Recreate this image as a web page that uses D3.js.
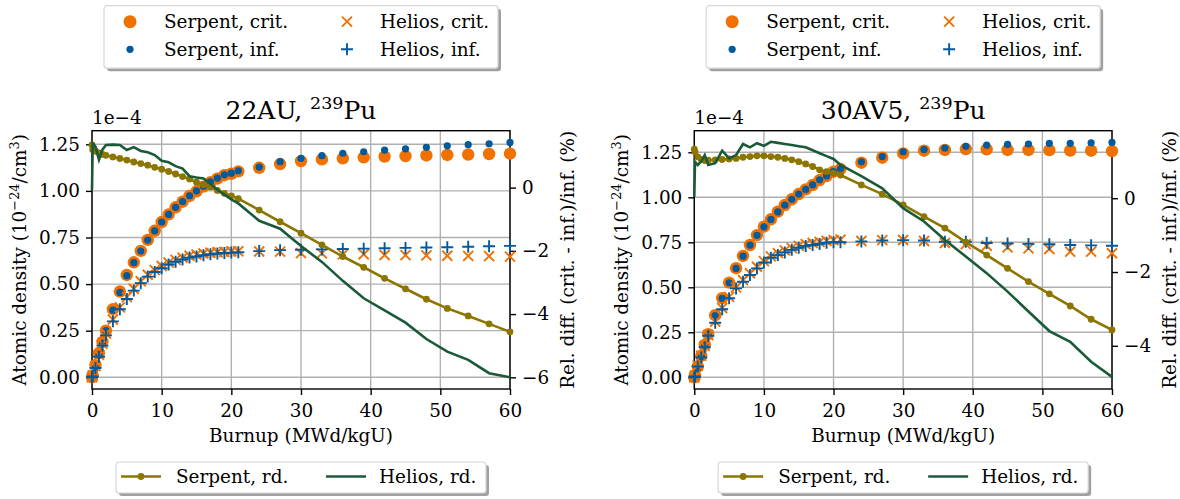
<!DOCTYPE html>
<html>
<head>
<meta charset="utf-8">
<script src="https://cdn.jsdelivr.net/npm/d3@7"></script>
<style>
  body { margin: 0; background: #fff; }
  svg { display: block; font-family: "DejaVu Serif", serif; }
</style>
</head>
<body>
<svg id="chart" width="1180" height="499"></svg>
<script>
// burnup steps (MWd/kgU)
const burnup = [0, 0.1, 0.5, 1, 1.5, 2, 3, 4, 5, 6, 7, 8, 9, 10, 11, 12, 13, 14, 15, 16, 17, 18, 19, 20, 21,
    24, 27, 30, 33, 36, 39, 42, 45, 48, 51, 54, 57, 60];

// 22AU, Pu-239 atomic density (1e-4 / barn-cm)
const serpCrit22 = [0, 0.01, 0.065, 0.13, 0.19, 0.25, 0.365, 0.46, 0.549, 0.617, 0.678, 0.737, 0.786, 0.833, 0.874,
    0.912, 0.942, 0.973, 0.998, 1.023, 1.046, 1.066, 1.084, 1.092, 1.105,
    1.124, 1.144, 1.160, 1.169, 1.175, 1.180, 1.184, 1.187, 1.190, 1.193, 1.195, 1.198, 1.200];
const serpInf22 = [0, 0.005, 0.05, 0.12, 0.18, 0.25, 0.36, 0.455, 0.545, 0.615, 0.677, 0.736, 0.786, 0.833, 0.874,
    0.912, 0.943, 0.974, 1.0, 1.025, 1.048, 1.068, 1.086, 1.095, 1.108,
    1.128, 1.157, 1.175, 1.189, 1.202, 1.210, 1.219, 1.226, 1.234, 1.242, 1.248, 1.253, 1.260];
const helCrit22 = [0, 0.01, 0.06, 0.12, 0.18, 0.235, 0.31, 0.375, 0.43, 0.475, 0.515, 0.55, 0.575, 0.597, 0.615,
    0.63, 0.642, 0.652, 0.658, 0.664, 0.668, 0.671, 0.673, 0.675, 0.676,
    0.675, 0.674, 0.666, 0.665, 0.659, 0.66, 0.656, 0.655, 0.654, 0.652, 0.651, 0.650, 0.647];
const helInf22 = [0, 0.005, 0.05, 0.11, 0.17, 0.225, 0.30, 0.365, 0.42, 0.465, 0.505, 0.54, 0.565, 0.585, 0.605,
    0.62, 0.632, 0.642, 0.648, 0.655, 0.66, 0.664, 0.667, 0.669, 0.671,
    0.677, 0.682, 0.684, 0.686, 0.688, 0.69, 0.692, 0.694, 0.696, 0.698, 0.70, 0.703, 0.705];
// 22AU, relative difference (%)
const serpRd22 = [1.35, 1.2, 1.15, 1.1, 1.05, 1.02, 0.97, 0.92, 0.87, 0.81, 0.76, 0.71, 0.64, 0.58, 0.51,
    0.43, 0.35, 0.27, 0.17, 0.09, 0.02, -0.09, -0.18, -0.26, -0.35,
    -0.71, -1.08, -1.44, -1.81, -2.18, -2.52, -2.87, -3.2, -3.53, -3.82, -4.06, -4.31, -4.56];
const helRd22 = [-0.07, 1.4, 1.3, 0.88, 1.2, 1.35, 1.36, 1.35, 1.19, 1.28, 1.16, 1.12, 1.03, 0.85, 0.8,
    0.68, 0.6, 0.36, 0.32, 0.29, 0.12, -0.07, -0.22, -0.37, -0.5,
    -1.05, -1.3, -1.85, -2.35, -2.95, -3.5, -3.88, -4.27, -4.79, -5.19, -5.45, -5.87, -6.0];

// 30AV5, Pu-239 atomic density
const serpCrit30 = [0, 0.01, 0.06, 0.12, 0.18, 0.24, 0.345, 0.44, 0.526, 0.606, 0.674, 0.735, 0.79, 0.837, 0.878,
    0.92, 0.957, 0.989, 1.018, 1.044, 1.068, 1.096, 1.118, 1.142, 1.157,
    1.192, 1.22, 1.244, 1.259, 1.263, 1.268, 1.266, 1.263, 1.263, 1.262, 1.26, 1.259, 1.257];
const serpInf30 = [0, 0.005, 0.05, 0.115, 0.175, 0.237, 0.343, 0.438, 0.525, 0.605, 0.673, 0.734, 0.789, 0.836, 0.877,
    0.919, 0.956, 0.989, 1.018, 1.044, 1.069, 1.097, 1.119, 1.143, 1.158,
    1.197, 1.226, 1.253, 1.265, 1.274, 1.283, 1.29, 1.294, 1.296, 1.30, 1.30, 1.303, 1.305];
const helCrit30 = [0, 0.01, 0.065, 0.12, 0.175, 0.235, 0.31, 0.385, 0.447, 0.5, 0.54, 0.578, 0.614, 0.645, 0.672,
    0.69, 0.705, 0.718, 0.73, 0.74, 0.746, 0.752, 0.758, 0.762, 0.765,
    0.757, 0.762, 0.763, 0.757, 0.746, 0.74, 0.731, 0.722, 0.716, 0.713, 0.698, 0.698, 0.689];
const helInf30 = [0, 0.005, 0.06, 0.11, 0.167, 0.23, 0.303, 0.378, 0.439, 0.494, 0.531, 0.568, 0.605, 0.638, 0.664,
    0.679, 0.694, 0.708, 0.72, 0.73, 0.735, 0.741, 0.748, 0.75, 0.75,
    0.755, 0.76, 0.762, 0.76, 0.753, 0.753, 0.746, 0.743, 0.741, 0.739, 0.735, 0.733, 0.731];
// 30AV5, relative difference (%)
const serpRd30 = [1.33, 1.26, 1.12, 1.05, 1.02, 1.03, 1.04, 1.05, 1.065, 1.08, 1.11, 1.13, 1.15, 1.15, 1.13,
    1.11, 1.08, 1.04, 0.99, 0.93, 0.86, 0.77, 0.72, 0.68, 0.63,
    0.36, 0.11, -0.18, -0.5, -0.81, -1.19, -1.54, -1.9, -2.26, -2.59, -2.92, -3.28, -3.57];
const helRd30 = [0.04, 0.99, 0.9, 1.0, 1.17, 0.9, 0.95, 1.29, 1.08, 1.17, 1.47, 1.38, 1.49, 1.42, 1.53,
    1.5, 1.47, 1.44, 1.41, 1.38, 1.3, 1.22, 1.14, 1.065, 0.9,
    0.6, 0.27, -0.27, -0.63, -1.13, -1.58, -2.03, -2.53, -3.07, -3.6, -3.89, -4.43, -4.84];

const xTicks = [0, 10, 20, 30, 40, 50, 60];
const yTicks = [0, 0.25, 0.5, 0.75, 1.0, 1.25];

const orange = "#f07000", blue = "#005a9e", olive = "#8c7600", green = "#1b5a38";
const fontSize = 18.4;

const svg = d3.select("#chart");
svg.append("rect").attr("width", 1180).attr("height", 499).attr("fill", "#fff");

const panels = [
    {name: "22AU", left: 92, right: 510, yDom: [-0.063, 1.323], rDom: [-6.37, 1.80], rTicks: [-6, -4, -2, 0],
        serpCrit: serpCrit22, serpInf: serpInf22, helCrit: helCrit22, helInf: helInf22, serpRd: serpRd22, helRd: helRd22},
    {name: "30AV5", left: 694.3, right: 1112, yDom: [-0.065, 1.37], rDom: [-5.17, 1.83], rTicks: [-4, -2, 0],
        serpCrit: serpCrit30, serpInf: serpInf30, helCrit: helCrit30, helInf: helInf30, serpRd: serpRd30, helRd: helRd30}
];

const plotTop = 130.7, plotBottom = 389;
const minus = v => String(v).replace("-", "\u2212");

panels.forEach(p => {
    const g = svg.append("g");
    const x = d3.scaleLinear().domain([0, 60]).range([p.left, p.right]);
    const y = d3.scaleLinear().domain(p.yDom).range([plotBottom, plotTop]);
    const yr = d3.scaleLinear().domain(p.rDom).range([plotBottom, plotTop]);
    const cx = (p.left + p.right) / 2;

    // grid
    g.append("g").selectAll("line").data(xTicks).join("line")
        .attr("x1", d => x(d)).attr("x2", d => x(d)).attr("y1", plotTop).attr("y2", plotBottom)
        .attr("stroke", "#b0b0b0").attr("stroke-width", 1.4);
    g.append("g").selectAll("line").data(yTicks).join("line")
        .attr("y1", d => y(d)).attr("y2", d => y(d)).attr("x1", p.left).attr("x2", p.right)
        .attr("stroke", "#b0b0b0").attr("stroke-width", 1.4);

    // axes
    const ax = g.append("g").attr("transform", `translate(0,${plotBottom})`)
        .call(d3.axisBottom(x).tickValues(xTicks).tickSize(6).tickPadding(6).tickSizeOuter(0));
    const ay = g.append("g").attr("transform", `translate(${p.left},0)`)
        .call(d3.axisLeft(y).tickValues(yTicks).tickFormat(d3.format(".2f")).tickSize(6).tickPadding(6).tickSizeOuter(0));
    const ar = g.append("g").attr("transform", `translate(${p.right},0)`)
        .call(d3.axisRight(yr).tickValues(p.rTicks).tickFormat(minus).tickSize(6).tickPadding(6).tickSizeOuter(0));
    [ax, ay, ar].forEach(a => {
        a.select(".domain").remove();
        a.selectAll("line").attr("stroke", "#000").attr("stroke-width", 1.4);
        a.selectAll("text").attr("font-family", "DejaVu Serif").attr("font-size", fontSize).attr("fill", "#000");
    });
    ax.selectAll("text").attr("dy", "0.88em");

    // spines
    g.append("rect").attr("x", p.left).attr("y", plotTop).attr("width", p.right - p.left).attr("height", plotBottom - plotTop)
        .attr("fill", "none").attr("stroke", "#000").attr("stroke-width", 1.4);

    const pts = arr => arr.map((v, i) => [burnup[i], v]);

    // markers
    g.append("g").selectAll("circle").data(pts(p.serpCrit)).join("circle")
        .attr("cx", d => x(d[0])).attr("cy", d => y(d[1])).attr("r", 6.2).attr("fill", orange);
    g.append("g").selectAll("circle").data(pts(p.serpInf)).join("circle")
        .attr("cx", d => x(d[0])).attr("cy", d => y(d[1])).attr("r", 3.6).attr("fill", blue);
    g.append("g").selectAll("path").data(pts(p.helCrit)).join("path")
        .attr("d", d => `M${x(d[0]) - 5},${y(d[1]) - 5}L${x(d[0]) + 5},${y(d[1]) + 5}M${x(d[0]) - 5},${y(d[1]) + 5}L${x(d[0]) + 5},${y(d[1]) - 5}`)
        .attr("stroke", orange).attr("stroke-width", 1.9).attr("fill", "none");
    g.append("g").selectAll("path").data(pts(p.helInf)).join("path")
        .attr("d", d => `M${x(d[0]) - 6},${y(d[1])}L${x(d[0]) + 6},${y(d[1])}M${x(d[0])},${y(d[1]) - 6}L${x(d[0])},${y(d[1]) + 6}`)
        .attr("stroke", blue).attr("stroke-width", 1.9).attr("fill", "none");

    // relative differences on the twin axis
    const line = d3.line().x(d => x(d[0])).y(d => yr(d[1]));
    g.append("path").datum(pts(p.serpRd)).attr("d", line)
        .attr("fill", "none").attr("stroke", olive).attr("stroke-width", 2.6);
    g.append("g").selectAll("circle").data(pts(p.serpRd)).join("circle")
        .attr("cx", d => x(d[0])).attr("cy", d => yr(d[1])).attr("r", 3.4).attr("fill", olive);
    g.append("path").datum(pts(p.helRd)).attr("d", line)
        .attr("fill", "none").attr("stroke", green).attr("stroke-width", 2.6);

    // texts
    const title = g.append("text").attr("x", cx).attr("y", 119).attr("text-anchor", "middle")
        .attr("font-size", 25);
    title.append("tspan").text(p.name + ", ");
    title.append("tspan").attr("dy", -10).attr("font-size", 17.5).text("239");
    title.append("tspan").attr("dy", 10).text("Pu");

    g.append("text").attr("x", p.left).attr("y", 124).attr("font-size", fontSize).text("1e\u22124");

    g.append("text").attr("x", cx).attr("y", 442).attr("text-anchor", "middle")
        .attr("font-size", fontSize).text("Burnup (MWd/kgU)");

    const yl = g.append("text").attr("transform", `translate(${p.left - 66},${(plotTop + plotBottom) / 2}) rotate(-90)`)
        .attr("text-anchor", "middle").attr("font-size", fontSize);
    yl.append("tspan").text("Atomic density (10");
    yl.append("tspan").attr("dy", -7).attr("font-size", 12.9).text("\u221224");
    yl.append("tspan").attr("dy", 7).text("/cm");
    yl.append("tspan").attr("dy", -7).attr("font-size", 12.9).text("3");
    yl.append("tspan").attr("dy", 7).text(")");

    g.append("text").attr("transform", `translate(${p.right + 64},${(plotTop + plotBottom) / 2}) rotate(-90)`)
        .attr("text-anchor", "middle").attr("font-size", fontSize).text("Rel. diff. (crit. - inf.)/inf. (%)");

    // top legend
    const lw = 394, lh = 62.5, lx = cx - lw / 2, ly = 5.7;
    const lg = g.append("g");
    lg.append("rect").attr("x", lx + 3).attr("y", ly + 3).attr("width", lw).attr("height", lh).attr("rx", 3)
        .attr("fill", "#a0a0a0");
    lg.append("rect").attr("x", lx).attr("y", ly).attr("width", lw).attr("height", lh).attr("rx", 3)
        .attr("fill", "#fff").attr("stroke", "#d6d6d6").attr("stroke-width", 1.2);
    const r1 = ly + 16, r2 = ly + 43.6;
    lg.append("circle").attr("cx", lx + 26).attr("cy", r1).attr("r", 6.5).attr("fill", orange);
    lg.append("circle").attr("cx", lx + 26).attr("cy", r2).attr("r", 3.6).attr("fill", blue);
    const mx = lx + 243;
    lg.append("path").attr("d", `M${mx - 5},${r1 - 5}L${mx + 5},${r1 + 5}M${mx - 5},${r1 + 5}L${mx + 5},${r1 - 5}`)
        .attr("stroke", orange).attr("stroke-width", 1.9);
    lg.append("path").attr("d", `M${mx - 6},${r2}L${mx + 6},${r2}M${mx},${r2 - 6}L${mx},${r2 + 6}`)
        .attr("stroke", blue).attr("stroke-width", 1.9);
    [["Serpent, crit.", lx + 60, r1], ["Serpent, inf.", lx + 60, r2], ["Helios, crit.", lx + 276, r1], ["Helios, inf.", lx + 276, r2]]
        .forEach(t => lg.append("text").attr("x", t[1]).attr("y", t[2]).attr("dy", "0.35em")
            .attr("font-size", fontSize).text(t[0]));

    // bottom legend
    const bw = 370, bh = 31, bx = cx - bw / 2, by = 462;
    const bg = g.append("g");
    bg.append("rect").attr("x", bx + 3).attr("y", by + 3).attr("width", bw).attr("height", bh).attr("rx", 3)
        .attr("fill", "#a0a0a0");
    bg.append("rect").attr("x", bx).attr("y", by).attr("width", bw).attr("height", bh).attr("rx", 3)
        .attr("fill", "#fff").attr("stroke", "#d6d6d6").attr("stroke-width", 1.2);
    const br = by + 14.5;
    bg.append("line").attr("x1", bx + 5).attr("x2", bx + 45).attr("y1", br).attr("y2", br)
        .attr("stroke", olive).attr("stroke-width", 2.6);
    bg.append("circle").attr("cx", bx + 25).attr("cy", br).attr("r", 3.4).attr("fill", olive);
    bg.append("line").attr("x1", bx + 210).attr("x2", bx + 250).attr("y1", br).attr("y2", br)
        .attr("stroke", green).attr("stroke-width", 2.6);
    bg.append("text").attr("x", bx + 60).attr("y", br).attr("dy", "0.35em").attr("font-size", fontSize).text("Serpent, rd.");
    bg.append("text").attr("x", bx + 263).attr("y", br).attr("dy", "0.35em").attr("font-size", fontSize).text("Helios, rd.");
});
</script>
</body>
</html>
